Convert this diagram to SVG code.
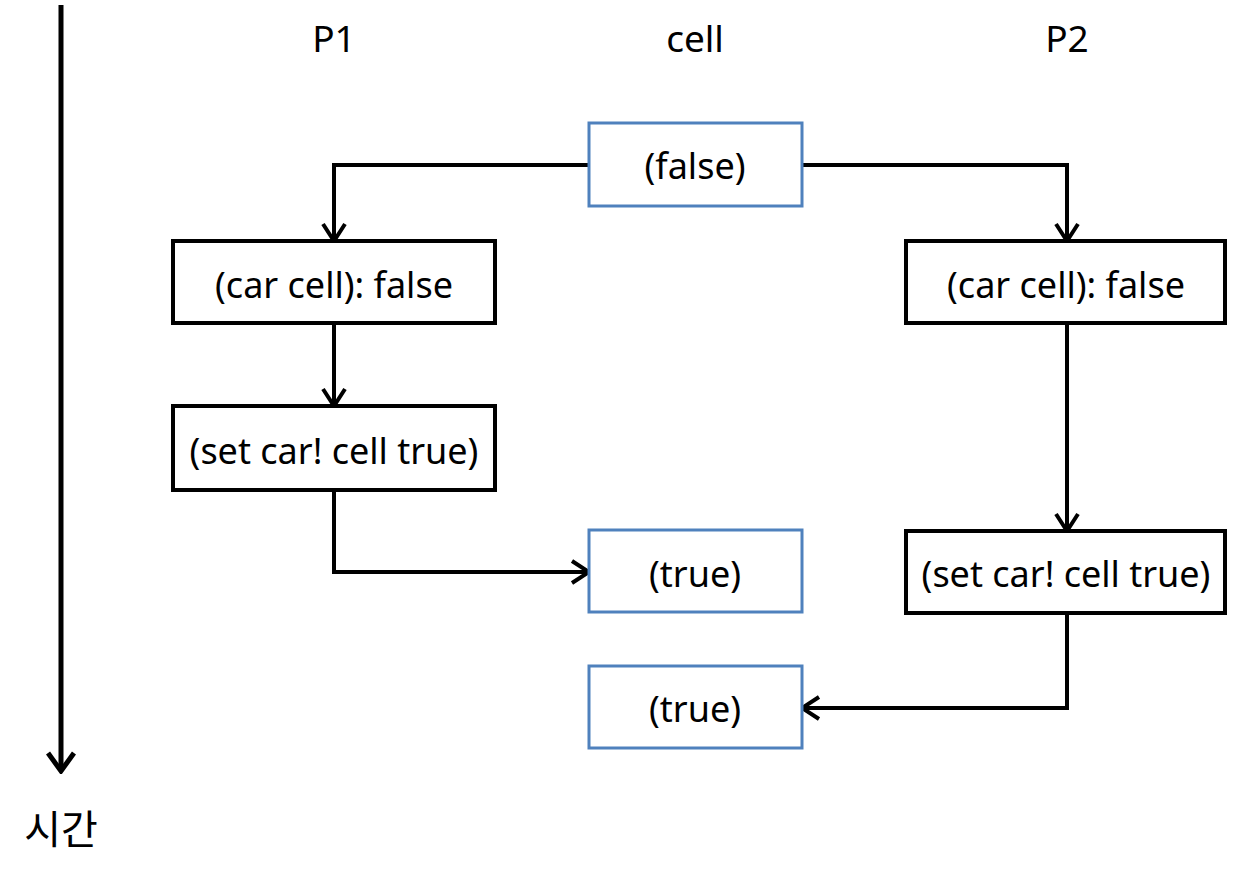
<svg xmlns="http://www.w3.org/2000/svg" width="1238" height="872" viewBox="0 0 1238 872">
<style>
text{font-family:"Noto Sans","Open Sans","Noto Sans CJK KR",sans-serif;font-size:36px;fill:#000;text-anchor:middle;dominant-baseline:central}
.hdr{font-size:37px}
.op rect{fill:#fff;stroke:#000;stroke-width:4}
.cell rect{fill:#fff;stroke:#4F81BD;stroke-width:3}
.conn path{fill:none;stroke:#000;stroke-width:4;stroke-linejoin:miter}
</style>
<defs>
<marker id="ah" viewBox="0 0 22 26" refX="20" refY="13" markerWidth="22" markerHeight="26" markerUnits="userSpaceOnUse" orient="auto">
<path d="M3,2 L20,13 L3,24" fill="none" stroke="#000" stroke-width="4"/>
</marker>
<marker id="ahb" viewBox="0 0 24 30" refX="21" refY="15" markerWidth="24" markerHeight="30" markerUnits="userSpaceOnUse" orient="auto">
<path d="M3,2 L21,15 L3,28" fill="none" stroke="#000" stroke-width="5"/>
</marker>
</defs>
<rect width="1238" height="872" fill="#fff"/>
<g id="timeline">
<path d="M61,5 V771" stroke="#000" stroke-width="5" fill="none" marker-end="url(#ahb)"/>
<text x="61" y="828" style="font-size:40px">시간</text>
</g>
<g id="headers">
<text class="hdr" x="334" y="37">P1</text>
<text class="hdr" x="695" y="37">cell</text>
<text class="hdr" x="1067" y="37">P2</text>
</g>
<g class="conn" id="connectors">
<path d="M589,165 H334 V241" marker-end="url(#ah)"/>
<path d="M802,165 H1067 V241" marker-end="url(#ah)"/>
<path d="M334,323 V406" marker-end="url(#ah)"/>
<path d="M334,490 V572 H589" marker-end="url(#ah)"/>
<path d="M1067,323 V531" marker-end="url(#ah)"/>
<path d="M1067,613 V708 H802" marker-end="url(#ah)"/>
</g>
<g id="cell-false" class="cell"><rect x="589" y="123" width="213" height="83"/><text x="695" y="165">(false)</text></g>
<g id="p1-car" class="op"><rect x="173" y="241" width="322" height="82"/><text x="334" y="284">(car cell): false</text></g>
<g id="p1-set" class="op"><rect x="173" y="406" width="322" height="84"/><text x="334" y="450">(set car! cell true)</text></g>
<g id="cell-true1" class="cell"><rect x="589" y="530" width="213" height="82"/><text x="695" y="573">(true)</text></g>
<g id="p2-car" class="op"><rect x="906" y="241" width="319" height="82"/><text x="1066" y="284">(car cell): false</text></g>
<g id="p2-set" class="op"><rect x="906" y="531" width="319" height="82"/><text x="1066" y="573">(set car! cell true)</text></g>
<g id="cell-true2" class="cell"><rect x="589" y="666" width="213" height="82"/><text x="695" y="708">(true)</text></g>
</svg>
